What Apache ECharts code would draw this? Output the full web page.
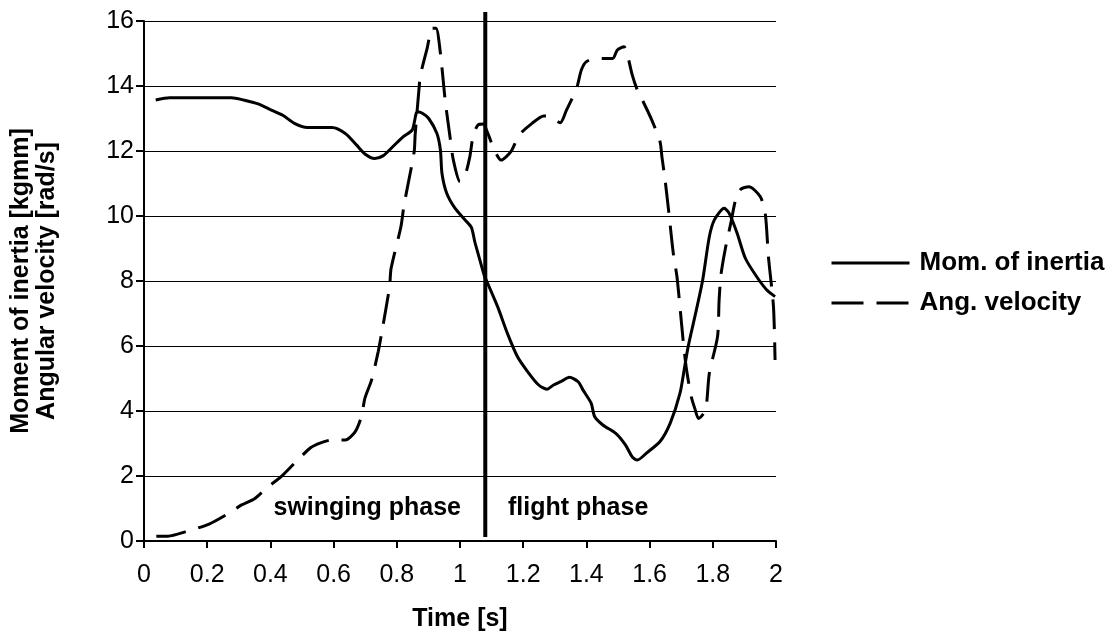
<!DOCTYPE html>
<html>
<head>
<meta charset="utf-8">
<script src="https://cdn.jsdelivr.net/npm/echarts@6/dist/echarts.min.js"></script>
<style>html,body{margin:0;padding:0;background:#fff}#c{width:1116px;height:638px}</style>
</head>
<body>
<div id="c"></div>
<script>
const FONT = '"Liberation Sans", Arial, sans-serif';
const xTicks = [0, 0.2, 0.4, 0.6, 0.8, 1, 1.2, 1.4, 1.6, 1.8, 2];
const yTicks = [0, 2, 4, 6, 8, 10, 12, 14, 16];
const seriesNames = ['Mom. of inertia', 'Ang. velocity'];
const phaseBoundary = 1.08;
const phaseLabels = ['swinging phase', 'flight phase'];

// Moment of inertia [kgmm]: [time s, value]
const inertia = [
  [0.037,13.57],[0.081,13.64],[0.15,13.64],[0.277,13.64],[0.315,13.57],[0.361,13.45],[0.403,13.26],
  [0.439,13.1],[0.476,12.85],[0.517,12.72],[0.595,12.72],[0.637,12.54],[0.673,12.18],[0.699,11.91],
  [0.73,11.77],[0.756,11.85],[0.787,12.13],[0.818,12.42],[0.849,12.65],[0.865,13.21],[0.881,13.16],
  [0.901,13.0],[0.927,12.54],[0.938,12.03],[0.943,11.31],[0.958,10.7],[0.984,10.24],[1.016,9.88],
  [1.036,9.65],[1.047,9.2],[1.057,8.85],[1.078,8.13],[1.083,8.03],[1.119,7.21],[1.15,6.39],
  [1.182,5.67],[1.218,5.16],[1.249,4.8],[1.275,4.67],[1.296,4.8],[1.322,4.92],[1.346,5.04],
  [1.374,4.9],[1.389,4.65],[1.415,4.24],[1.426,3.83],[1.452,3.57],[1.493,3.31],[1.524,2.95],
  [1.545,2.59],[1.561,2.49],[1.592,2.72],[1.633,3.06],[1.665,3.62],[1.696,4.54],[1.711,5.36],
  [1.722,5.98],[1.748,7.11],[1.768,8.03],[1.789,9.36],[1.805,9.88],[1.836,10.24],[1.852,10.08],
  [1.877,9.47],[1.903,8.7],[1.939,8.13],[1.971,7.72],[1.997,7.52]
];
// Angular velocity [rad/s]: [time s, value]
const velocity = [
  [0.039,0.15],[0.076,0.15],[0.133,0.29],[0.206,0.52],[0.268,0.85],[0.309,1.11],[0.351,1.31],
  [0.393,1.67],[0.434,1.98],[0.476,2.39],[0.527,2.87],[0.559,3.02],[0.595,3.11],[0.637,3.11],
  [0.668,3.36],[0.688,3.83],[0.699,4.39],[0.72,4.95],[0.741,5.82],[0.751,6.34],[0.777,7.82],
  [0.782,8.39],[0.813,9.67],[0.823,10.34],[0.855,11.98],[0.858,12.49],[0.87,13.88],[0.875,14.34],
  [0.896,15.16],[0.912,15.78],[0.924,15.78],[0.938,15.01],[0.953,13.57],[0.969,12.39],[0.979,11.72],
  [1.0,11.06],[1.016,11.25],[1.031,11.82],[1.042,12.49],[1.057,12.8],[1.073,12.83],[1.088,12.54],
  [1.109,12.03],[1.13,11.72],[1.161,11.98],[1.187,12.49],[1.228,12.85],[1.265,13.08],[1.285,13.06],
  [1.317,12.87],[1.337,13.26],[1.369,13.93],[1.384,14.49],[1.4,14.75],[1.436,14.85],[1.483,14.85],
  [1.498,15.11],[1.519,15.21],[1.53,14.95],[1.545,14.34],[1.561,13.88],[1.582,13.47],[1.607,12.95],
  [1.633,12.29],[1.639,11.82],[1.649,11.11],[1.66,10.18],[1.675,8.85],[1.687,8.1],[1.706,6.18],
  [1.717,5.26],[1.732,4.44],[1.743,4.08],[1.755,3.77],[1.777,4.03],[1.789,5.16],[1.815,6.29],
  [1.82,7.42],[1.826,8.2],[1.841,9.06],[1.857,9.78],[1.872,10.49],[1.888,10.82],[1.914,10.9],
  [1.95,10.6],[1.966,10.08],[1.976,8.75],[1.992,7.21],[1.997,5.57]
];

const chart = echarts.init(document.getElementById('c'));
chart.setOption({
  animation: false,
  backgroundColor: '#fff',
  textStyle: { fontFamily: FONT, color: '#000' },
  grid: { left: 134, right: 340, top: 21, bottom: 97, containLabel: false },
  xAxis: {
    type: 'value', min: xTicks[0], max: xTicks[xTicks.length - 1], interval: 0.2,
    name: 'Time [s]', nameLocation: 'middle', nameGap: 66,
    nameTextStyle: { fontSize: 25, fontWeight: 'bold', fontFamily: FONT, color: '#000' },
    axisLine: { lineStyle: { color: '#000', width: 2 } },
    axisTick: { length: 7, lineStyle: { color: '#000', width: 2 } },
    axisLabel: { fontSize: 25, fontFamily: FONT, color: '#000', margin: 22,
      formatter: v => String(+v.toFixed(1)) },
    splitLine: { show: false }
  },
  yAxis: {
    type: 'value', min: yTicks[0], max: yTicks[yTicks.length - 1], interval: 2,
    name: 'Moment of inertia [kgmm]\nAngular velocity [rad/s]',
    nameLocation: 'middle', nameRotate: 90, nameGap: 84,
    nameTextStyle: { fontSize: 25, fontWeight: 'bold', fontFamily: FONT, color: '#000', lineHeight: 26 },
    axisLine: { show: true, lineStyle: { color: '#000', width: 2 } },
    axisTick: { show: true, length: 8, lineStyle: { color: '#000', width: 2 } },
    axisLabel: { fontSize: 25, fontFamily: FONT, color: '#000', margin: 10 },
    splitLine: { show: true, lineStyle: { color: '#000', width: 1.2 } }
  },
  legend: {
    orient: 'vertical', left: 830, top: 250, padding: 0,
    itemWidth: 78, itemHeight: 14, itemGap: 14,
    itemStyle: { opacity: 0 },
    data: [
      { name: seriesNames[0], lineStyle: { type: 'solid', width: 3, color: '#000' } },
      { name: seriesNames[1], lineStyle: { type: [32, 13], width: 3, color: '#000' } }
    ],
    textStyle: { fontSize: 26, fontWeight: 'bold', fontFamily: FONT, color: '#000', padding: [0, 0, 0, 5] }
  },
  series: [
    {
      name: seriesNames[0], type: 'line', data: inertia, symbol: 'none', smooth: 0.25,
      lineStyle: { color: '#000', width: 3, type: 'solid' }, itemStyle: { color: '#000' }
    },
    {
      name: seriesNames[1], type: 'line', data: velocity, symbol: 'none', smooth: 0.25,
      lineStyle: { color: '#000', width: 3, type: [30, 13] }, itemStyle: { color: '#000' }
    },
    {
      name: 'phase', type: 'line', symbol: 'none', clip: false, silent: true,
      data: [[phaseBoundary, 16.28], [phaseBoundary, 0.12]],
      lineStyle: { color: '#000', width: 4 }
    }
  ],
  graphic: [
    { type: 'text', right: 1116 - 461, top: 496,
      style: { text: phaseLabels[0], font: 'bold 25px ' + FONT, fill: '#000' } },
    { type: 'text', left: 508, top: 496,
      style: { text: phaseLabels[1], font: 'bold 25px ' + FONT, fill: '#000' } }
  ]
});
</script>
</body>
</html>
